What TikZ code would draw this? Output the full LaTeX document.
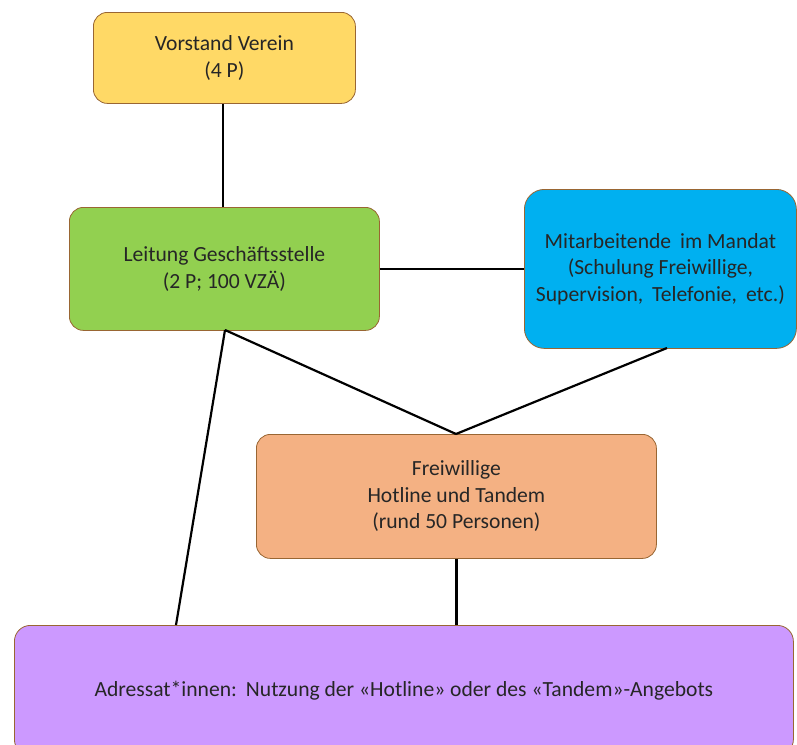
\documentclass[tikz,border=0pt]{standalone}
\usepackage{fontspec}
\setmainfont{Carlito}
\begin{document}
\begin{tikzpicture}[x=1pt,y=-1pt,
  box/.style={draw=brown!80!black, line width=0.8pt, rounded corners=14pt, align=center, anchor=north west, inner sep=0pt, text=black!85,
    font=\fontsize{21.6}{26.5}\selectfont},
  link/.style={line width=2.2pt, black}]
\useasboundingbox (0,0) rectangle (797,744);
\node[box, fill={rgb,255:red,255;green,217;blue,102}, minimum width=262pt, minimum height=91pt] (v) at (93,12) {Vorstand Verein\\(4 P)};
\node[box, fill={rgb,255:red,146;green,208;blue,80}, minimum width=310pt, minimum height=123pt] (l) at (69,207) {Leitung Geschäftsstelle\\(2 P; 100 VZÄ)};
\node[box, fill={rgb,255:red,0;green,176;blue,240}, minimum width=272pt, minimum height=159pt, rounded corners=20pt] (m) at (524,189) {Mitarbeitende\hspace{9pt}im Mandat\\(Schulung Freiwillige,\\Supervision,\hspace{9pt}Telefonie,\hspace{9pt}etc.)};
\node[box, fill={rgb,255:red,244;green,177;blue,131}, minimum width=400pt, minimum height=124pt] (f) at (256,434) {Freiwillige\\Hotline und Tandem\\(rund 50 Personen)};
\node[box, fill={rgb,255:red,204;green,153;blue,255}, minimum width=779pt, minimum height=130pt, rounded corners=16pt] (a) at (14,625) {Adressat*innen:\hspace{9pt}Nutzung der «Hotline» oder des «Tandem»-Angebots};
\coordinate (lb) at (225,330);
\coordinate (ft) at (456,434);
\draw[link] (v.south -| 223,0) -- (l.north -| 223,0);
\draw[link] (l.east) -- (m.west |- l.east);
\draw[link] (lb) -- (ft);
\draw[link] (667,348) -- (ft);
\draw[link] (lb) -- (176,625);
\draw[link] (f.south) -- (f.south |- a.north);
\end{tikzpicture}
\end{document}
